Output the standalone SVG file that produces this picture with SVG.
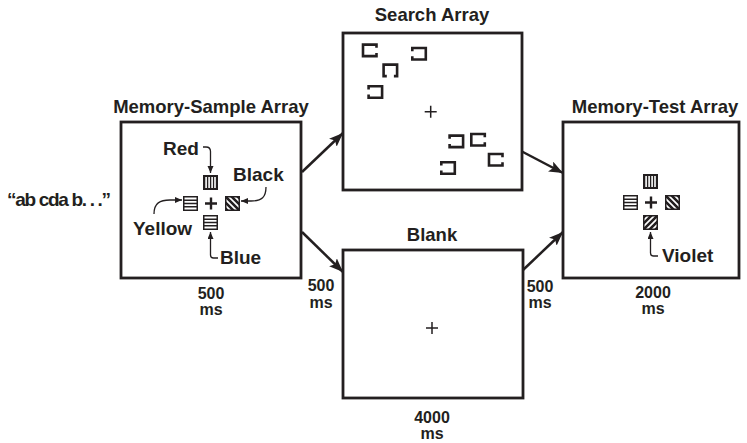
<svg xmlns="http://www.w3.org/2000/svg" width="747" height="443" viewBox="0 0 747 443">
  <style>
    .frame { fill: #fff; stroke: #231f20; stroke-width: 2.8; }
    .title { font-family: "Liberation Sans", Arial, sans-serif; font-weight: bold; font-size: 18.5px; fill: #231f20; text-anchor: middle; }
    .lbl { font-family: "Liberation Sans", Arial, sans-serif; font-weight: bold; font-size: 19px; fill: #231f20; }
    .time { font-family: "Liberation Sans", Arial, sans-serif; font-weight: bold; font-size: 16px; fill: #231f20; text-anchor: middle; }
    .flow { fill: none; stroke: #231f20; stroke-width: 2.5; marker-end: url(#bigHead); }
    .pointer { fill: none; stroke: #231f20; stroke-width: 1.3; marker-end: url(#smallHead); }
    .bracket { fill: none; stroke: #231f20; stroke-width: 2.6; stroke-linejoin: miter; }
    .fixThick { stroke: #231f20; stroke-width: 2.4; }
    .fixThin { stroke: #231f20; stroke-width: 1.5; }
  </style>
  <defs>
    <marker id="bigHead" markerUnits="userSpaceOnUse" markerWidth="15" markerHeight="12" refX="14" refY="5.5" orient="auto">
      <path d="M0,0 L14,5.5 L0,11 L3,5.5 Z" fill="#231f20"/>
    </marker>
    <marker id="smallHead" markerUnits="userSpaceOnUse" markerWidth="8" markerHeight="7" refX="7" refY="3" orient="auto">
      <path d="M0,0 L7,3 L0,6 Z" fill="#231f20"/>
    </marker>
    <clipPath id="sq"><rect x="0" y="0" width="15" height="15"/></clipPath>
    <!-- colour patches: vertical, horizontal and diagonal stripes -->
    <g id="vstripe">
      <rect x="0" y="0" width="15" height="15" fill="#231f20"/>
      <rect x="2.3" y="2" width="1.6" height="11" fill="#fff"/>
      <rect x="5.3" y="2" width="1.6" height="11" fill="#fff"/>
      <rect x="8.3" y="2" width="1.6" height="11" fill="#fff"/>
      <rect x="11.2" y="2" width="1.6" height="11" fill="#fff"/>
    </g>
    <g id="hstripe">
      <rect x="0.75" y="0.75" width="13.5" height="13.5" fill="#fff" stroke="#231f20" stroke-width="1.5"/>
      <path d="M0,4.3 H15 M0,7.5 H15 M0,10.7 H15" stroke="#231f20" stroke-width="1.5"/>
    </g>
    <g id="backslash">
      <rect x="0" y="0" width="15" height="15" fill="#fff"/>
      <g clip-path="url(#sq)" stroke="#231f20" stroke-width="2.6">
        <path d="M-4,-4 L19,19 M2,-4 L25,19 M-10,-4 L13,19 M8,-4 L31,19 M-16,-4 L7,19"/>
      </g>
      <rect x="0.75" y="0.75" width="13.5" height="13.5" fill="none" stroke="#231f20" stroke-width="1.5"/>
    </g>
    <g id="slash">
      <rect x="0" y="0" width="15" height="15" fill="#fff"/>
      <g clip-path="url(#sq)" stroke="#231f20" stroke-width="2.6">
        <path d="M19,-4 L-4,19 M25,-4 L2,19 M13,-4 L-10,19 M31,-4 L8,19 M7,-4 L-16,19"/>
      </g>
      <rect x="0.75" y="0.75" width="13.5" height="13.5" fill="none" stroke="#231f20" stroke-width="1.5"/>
    </g>
    <!-- search items: squares with one open side -->
    <path id="openR" class="bracket" d="M13.5,3.2 V0 H0 V11.5 H13.5 V8.3"/>
    <path id="openL" class="bracket" d="M0,3.2 V0 H13.5 V11.5 H0 V8.3"/>
    <path id="openB" class="bracket" d="M3.2,11.5 H0 V0 H13.5 V11.5 H10.3"/>
  </defs>

  <rect width="747" height="443" fill="#fff"/>

  <!-- connectors between the displays -->
  <g id="connectors">
    <path class="flow" d="M302,172 L343,133"/>
    <path class="flow" d="M302,232 L343,272"/>
    <path class="flow" d="M521,151 L563,173"/>
    <path class="flow" d="M523,270 L563,232"/>
  </g>

  <!-- spoken load -->
  <g id="verbal-load">
    <text class="lbl" x="7" y="206" font-size="16" textLength="104" lengthAdjust="spacing">“ab cda b. . .”</text>
  </g>

  <!-- memory sample display -->
  <g id="memory-sample">
    <text class="title" x="211" y="113">Memory-Sample Array</text>
    <rect class="frame" x="121" y="122" width="180" height="156"/>
    <use href="#vstripe" x="203" y="175"/>
    <use href="#hstripe" x="183" y="196"/>
    <use href="#backslash" x="225" y="196"/>
    <use href="#hstripe" x="203" y="215"/>
    <path class="fixThick" d="M205,203.5 H217 M211,197.5 V209.5"/>
    <text class="lbl" x="163" y="155">Red</text>
    <text class="lbl" x="233" y="180.5">Black</text>
    <text class="lbl" x="133" y="234.5">Yellow</text>
    <text class="lbl" x="220" y="264">Blue</text>
    <path class="pointer" d="M203,147 H206 Q210.5,147 210.5,151.5 V173"/>
    <path class="pointer" d="M266,187 C266,197 262,201 251,201 L241,201"/>
    <path class="pointer" d="M154,214 C154,203 160,200 170,200 L182,200"/>
    <path class="pointer" d="M218,258 H213.5 Q210.5,258 210.5,255 V232"/>
    <text class="time" x="211" y="299">500</text>
    <text class="time" x="211" y="315">ms</text>
  </g>

  <!-- search display -->
  <g id="search-array">
    <text class="title" x="432" y="21">Search Array</text>
    <rect class="frame" x="343" y="33" width="179" height="157"/>
    <use href="#openR" x="363" y="44.6"/>
    <use href="#openL" x="412.3" y="48"/>
    <use href="#openB" x="383.6" y="64.6"/>
    <use href="#openL" x="368.6" y="86.3"/>
    <use href="#openL" x="449.6" y="135.6"/>
    <use href="#openR" x="471.3" y="134"/>
    <use href="#openR" x="489" y="154"/>
    <use href="#openL" x="441.3" y="162.3"/>
    <path class="fixThin" d="M424.7,111.7 H436.7 M430.7,105.7 V117.7"/>
  </g>

  <!-- blank display -->
  <g id="blank">
    <text class="title" x="432" y="241">Blank</text>
    <rect class="frame" x="343" y="250" width="180" height="148"/>
    <path class="fixThin" d="M426,328 H438 M432,322 V334"/>
    <text class="time" x="432" y="423">4000</text>
    <text class="time" x="432" y="439">ms</text>
  </g>

  <!-- delay labels -->
  <g id="delay-1">
    <text class="time" x="321" y="291">500</text>
    <text class="time" x="321" y="308">ms</text>
  </g>
  <g id="delay-2">
    <text class="time" x="540" y="292">500</text>
    <text class="time" x="540" y="308">ms</text>
  </g>

  <!-- memory test display -->
  <g id="memory-test">
    <text class="title" x="655" y="113">Memory-Test Array</text>
    <rect class="frame" x="563" y="122" width="176" height="156"/>
    <use href="#vstripe" x="643" y="174"/>
    <use href="#hstripe" x="623" y="195"/>
    <use href="#backslash" x="665" y="195"/>
    <use href="#slash" x="643" y="215"/>
    <path class="fixThick" d="M645,202.5 H657 M651,196.5 V208.5"/>
    <text class="lbl" x="662" y="261.5">Violet</text>
    <path class="pointer" d="M658,256 H653.5 Q650.5,256 650.5,253 V232"/>
    <text class="time" x="653" y="298">2000</text>
    <text class="time" x="653" y="314">ms</text>
  </g>
</svg>
